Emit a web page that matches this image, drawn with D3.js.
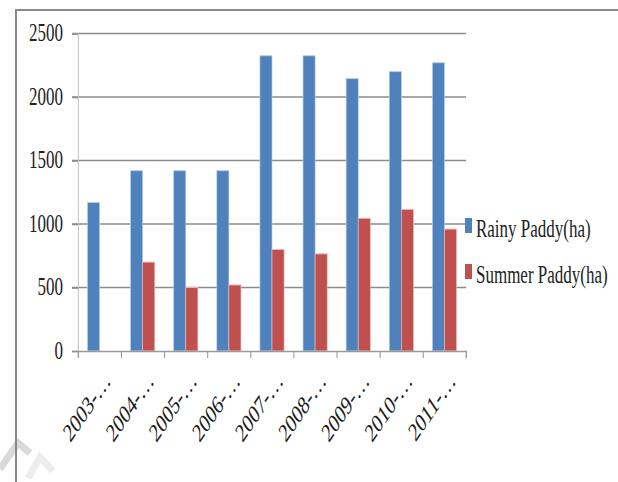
<!DOCTYPE html>
<html>
<head>
<meta charset="utf-8">
<script src="https://cdn.jsdelivr.net/npm/d3@7"></script>
<style>
  html, body { margin: 0; padding: 0; background: #fff; }
  svg { display: block; }
</style>
</head>
<body>
<svg id="chart"></svg>
<script>
const categories = ["2003-…", "2004-…", "2005-…", "2006-…", "2007-…", "2008-…", "2009-…", "2010-…", "2011-…"];
const seriesNames = ["Rainy Paddy(ha)", "Summer Paddy(ha)"];
const rainy = [1170, 1420, 1420, 1420, 2325, 2325, 2145, 2200, 2270];
const summer = [0, 700, 500, 520, 800, 765, 1045, 1115, 960];
const yTicks = [0, 500, 1000, 1500, 2000, 2500];

const W = 618, H = 482;
const sx = 0.68; // the whole picture is squeezed horizontally
const font = "'Liberation Serif', 'DejaVu Serif', serif";
const colors = ["#4f81bd", "#c0504d"];
const edges = ["#b9cde5", "#e6b9b8"];

const svg = d3.select("#chart")
  .attr("width", W)
  .attr("height", H);

// faint watermark fragments, bottom left
svg.append("path")
  .attr("d", "M0,469 L18,443 L30,453")
  .attr("fill", "none")
  .attr("stroke", "#d9d9d9")
  .attr("stroke-width", 7);
svg.append("path")
  .attr("d", "M28,478 L40,457 L53,471")
  .attr("fill", "none")
  .attr("stroke", "#ededed")
  .attr("stroke-width", 7);

// frame (drawn unsqueezed)
svg.append("path")
  .attr("d", `M16,${H} L16,10 L${W},10`)
  .attr("fill", "none")
  .attr("stroke", "#8a8a8a")
  .attr("stroke-width", 2);

const g = svg.append("g")
  .attr("transform", `scale(${sx},1)`);

const plotLeft = 78 / sx, plotRight = 466 / sx;
const plotTop = 33.5, plotBottom = 351;

const yScale = d3.scaleLinear()
  .domain([0, 2500])
  .range([plotBottom, plotTop]);

const x0 = d3.scaleBand()
  .domain(categories)
  .range([plotLeft, plotRight])
  .paddingInner(0.44)
  .paddingOuter(0.22);

const x1 = d3.scaleBand()
  .domain(seriesNames)
  .range([0, x0.bandwidth()]);

const xEdge = d3.scaleLinear()
  .domain([0, categories.length])
  .range([plotLeft, plotRight]);

// gridlines
g.append("g")
  .selectAll("line")
  .data(yTicks.filter(d => d > 0))
  .enter()
  .append("line")
  .attr("x1", plotLeft - 6 / sx)
  .attr("x2", plotRight)
  .attr("y1", d => yScale(d))
  .attr("y2", d => yScale(d))
  .attr("stroke", "#8c8c8c")
  .attr("stroke-width", 1.6);

// y axis
const yAxis = d3.axisLeft(yScale)
  .tickValues(yTicks)
  .tickFormat(d3.format("d"))
  .tickSize(6 / sx)
  .tickPadding(9 / sx);

const yG = g.append("g")
  .attr("transform", `translate(${plotLeft},0)`)
  .call(yAxis)
  .attr("font-family", font)
  .attr("font-size", 25);
yG.select(".domain").attr("stroke", "#c4c4c4").attr("stroke-width", 1.6);
yG.selectAll(".tick line").attr("stroke", "#8c8c8c").attr("stroke-width", 1.6);
yG.selectAll(".tick text")
  .attr("fill", "#222")
  .attr("dy", "0.28em");

// bars
const series = [rainy, summer];
const groups = g.append("g")
  .selectAll("g")
  .data(categories)
  .enter()
  .append("g")
  .attr("transform", d => `translate(${x0(d)},0)`);

groups.selectAll("rect")
  .data((d, i) => series.map((s, k) => ({ name: seriesNames[k], k: k, v: s[i] })).filter(d => d.v > 0))
  .enter()
  .append("rect")
  .attr("x", d => x1(d.name))
  .attr("y", d => yScale(d.v))
  .attr("width", x1.bandwidth())
  .attr("height", d => plotBottom - yScale(d.v))
  .attr("fill", d => colors[d.k])
  .attr("stroke", d => edges[d.k])
  .attr("stroke-width", 1);

// x axis
const xAxis = d3.axisBottom(xEdge)
  .tickValues(d3.range(categories.length + 1))
  .tickSize(7)
  .tickFormat("");

const xG = g.append("g")
  .attr("transform", `translate(0,${plotBottom})`)
  .call(xAxis);
xG.select(".domain").attr("stroke", "#9a9a9a").attr("stroke-width", 1.6);
xG.selectAll(".tick line").attr("stroke", "#9a9a9a").attr("stroke-width", 1.6);

// rotated category labels
g.append("g")
  .selectAll("text")
  .data(categories)
  .enter()
  .append("text")
  .attr("transform", d => `translate(${x0(d) + x0.bandwidth() / 2 + 18},${plotBottom + 31}) rotate(-45)`)
  .attr("text-anchor", "end")
  .attr("font-family", font)
  .attr("font-size", 26)
  .attr("fill", "#1a1a1a")
  .text(d => d);

// legend
const legend = g.append("g")
  .selectAll("g")
  .data(seriesNames)
  .enter()
  .append("g")
  .attr("transform", (d, i) => `translate(${465 / sx},${218 + i * 46})`);

legend.append("rect")
  .attr("width", 7 / sx)
  .attr("height", 15)
  .attr("fill", (d, i) => colors[i]);

legend.append("text")
  .attr("x", 11 / sx)
  .attr("y", 19)
  .attr("font-family", font)
  .attr("font-size", 25)
  .attr("fill", "#222")
  .text(d => d);
</script>
</body>
</html>
